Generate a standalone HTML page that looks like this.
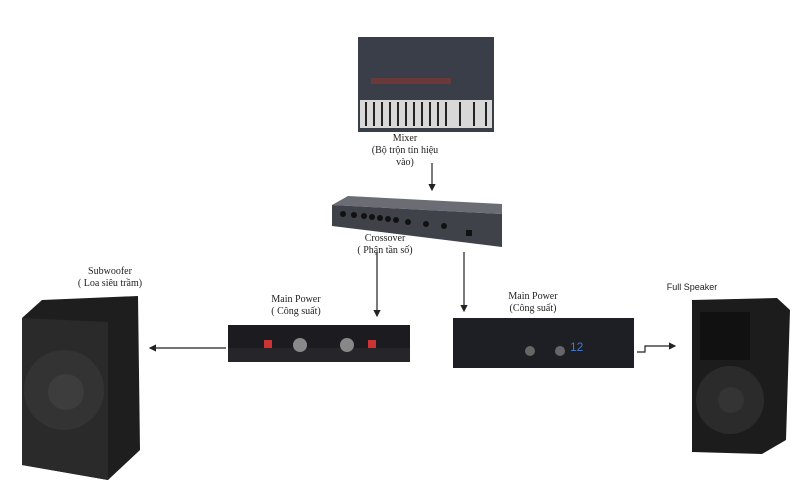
<!DOCTYPE html>
<html><head><meta charset="utf-8"><style>
body{margin:0;width:800px;height:500px;background:#fff;position:relative;overflow:hidden;font-family:"Liberation Serif",serif;color:#222}
.a{position:absolute}
.t{position:absolute;font-size:10px;text-align:center;line-height:12px}
</style></head><body>
<svg class="a" style="left:0;top:0" width="800" height="500">
<defs><marker id="m" markerWidth="6" markerHeight="6" refX="5" refY="3" orient="auto"><path d="M0,0L6,3L0,6z" fill="#222"/></marker></defs>
<g stroke="#222" stroke-width="1.2" fill="none">
<line x1="432" y1="163" x2="432" y2="190" marker-end="url(#m)"/>
<line x1="377" y1="252" x2="377" y2="316" marker-end="url(#m)"/>
<line x1="464" y1="252" x2="464" y2="311" marker-end="url(#m)"/>
<line x1="226" y1="348" x2="150" y2="348" marker-end="url(#m)"/>
<polyline points="637,352 645,352 645,346 675,346" marker-end="url(#m)"/>
</g>
<!-- mixer -->
<rect x="358" y="37" width="136" height="95" fill="#3a3e48"/>
<rect x="360" y="100" width="132" height="28" fill="#d8d8d8"/>
<g stroke="#222" stroke-width="2">
<line x1="366" y1="102" x2="366" y2="126"/><line x1="374" y1="102" x2="374" y2="126"/><line x1="382" y1="102" x2="382" y2="126"/><line x1="390" y1="102" x2="390" y2="126"/><line x1="398" y1="102" x2="398" y2="126"/><line x1="406" y1="102" x2="406" y2="126"/><line x1="414" y1="102" x2="414" y2="126"/><line x1="422" y1="102" x2="422" y2="126"/><line x1="430" y1="102" x2="430" y2="126"/><line x1="438" y1="102" x2="438" y2="126"/><line x1="446" y1="102" x2="446" y2="126"/><line x1="460" y1="102" x2="460" y2="126"/><line x1="474" y1="102" x2="474" y2="126"/><line x1="486" y1="102" x2="486" y2="126"/>
</g>
<rect x="371" y="78" width="80" height="6" fill="#6a3a3a"/>
<!-- crossover -->
<polygon points="332,205 348,196 502,204 502,214" fill="#6a6d74"/>
<polygon points="332,205 502,214 502,247 332,226" fill="#3f4248"/>
<g fill="#111"><circle cx="343" cy="214" r="3"/><circle cx="354" cy="215" r="3"/><circle cx="364" cy="216" r="3"/><circle cx="372" cy="217" r="3"/><circle cx="380" cy="218" r="3"/><circle cx="388" cy="219" r="3"/><circle cx="396" cy="220" r="3"/><circle cx="408" cy="222" r="3"/><circle cx="426" cy="224" r="3"/><circle cx="444" cy="226" r="3"/><rect x="466" y="230" width="6" height="6"/></g>
<!-- subwoofer -->
<polygon points="22,318 42,300 138,296 140,450 108,480 22,465" fill="#1e1e1e"/>
<polygon points="22,318 108,322 108,480 22,465" fill="#2a2a2a"/>
<circle cx="64" cy="390" r="40" fill="#333"/>
<circle cx="66" cy="392" r="18" fill="#3d3d3d"/>
<!-- amp1 -->
<rect x="228" y="325" width="182" height="36" fill="#1c1c20"/>
<rect x="228" y="348" width="182" height="14" fill="#26262a"/>
<rect x="264" y="340" width="8" height="8" fill="#c33"/><rect x="368" y="340" width="8" height="8" fill="#c33"/>
<circle cx="300" cy="345" r="7" fill="#888"/><circle cx="347" cy="345" r="7" fill="#888"/>
<!-- amp2 -->
<rect x="453" y="318" width="181" height="50" fill="#1e1f24"/>
<circle cx="530" cy="351" r="5" fill="#666"/><circle cx="560" cy="351" r="5" fill="#666"/>
<text x="570" y="351" fill="#3a7bd5" font-size="12" font-family="Liberation Sans">12</text>
<!-- full speaker -->
<polygon points="692,300 777,298 790,310 786,440 762,454 692,452" fill="#1c1c1c"/>
<rect x="700" y="312" width="50" height="48" fill="#111"/>
<circle cx="730" cy="400" r="34" fill="#2b2b2b"/>
<circle cx="731" cy="400" r="13" fill="#343434"/>
</svg>
<div class="t" style="left:350px;top:133px;width:110px">Mixer<br>(Bộ trộn tín hiệu<br>vào)</div>
<div class="t" style="left:340px;top:233px;width:90px">Crossover<br>( Phận tần số)</div>
<div class="t" style="left:60px;top:266px;width:100px">Subwoofer<br>( Loa siêu trầm)</div>
<div class="t" style="left:246px;top:294px;width:100px">Main Power<br>( Công suất)</div>
<div class="t" style="left:483px;top:291px;width:100px">Main Power<br>(Công suất)</div>
<div class="t" style="left:652px;top:281px;width:80px;font-family:'Liberation Sans',sans-serif;font-size:9px">Full Speaker</div>
</body></html>
